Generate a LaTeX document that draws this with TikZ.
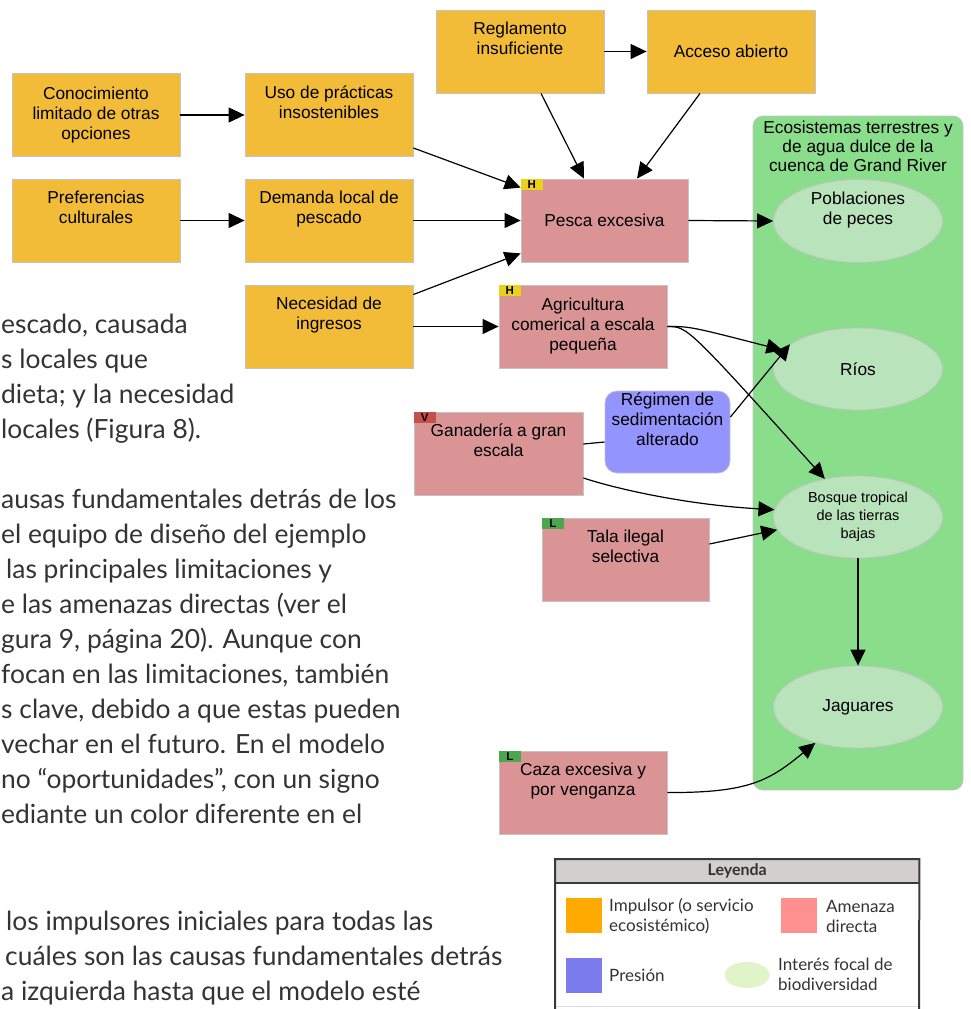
\documentclass[tikz,border=0pt]{standalone}
\usepackage{fontspec}
\setmainfont{Liberation Sans}
\newfontfamily\bodyfont{Lato}
\usetikzlibrary{arrows.meta,shapes.geometric}
\definecolor{drvc}{HTML}{F2BC38}
\definecolor{thrc}{HTML}{DA9495}
\definecolor{prc}{HTML}{9494FF}
\definecolor{contc}{HTML}{8ADD8A}
\definecolor{focc}{HTML}{B9E3BA}
\definecolor{bordc}{HTML}{C4C4C4}
\definecolor{bodyc}{HTML}{333333}
\definecolor{tagH}{HTML}{EBD21A}
\definecolor{tagV}{HTML}{C5504A}
\definecolor{tagL}{HTML}{4CA64C}
\definecolor{lorange}{HTML}{FFAA00}
\definecolor{lpink}{HTML}{FF9090}
\definecolor{lblue}{HTML}{7B7BEE}
\definecolor{lgreen}{HTML}{E1F3C8}
\definecolor{hdrc}{HTML}{D1D0CC}
\definecolor{framec}{HTML}{3A3A3A}
\begin{document}
\begin{tikzpicture}[x=1pt,y=-1pt,
  drv/.style={draw=bordc, fill=drvc, line width=0.8pt, minimum width=168pt, minimum height=83pt, inner sep=0pt, align=center, font=\fontsize{17.3}{20}\selectfont},
  thr/.style={drv, fill=thrc},
  press/.style={drv, fill=prc, rounded corners=12pt, minimum width=125pt, minimum height=82pt},
  foc/.style={ellipse, draw=bordc, fill=focc, line width=0.8pt, minimum width=169pt, minimum height=82pt, inner sep=0pt, align=center, font=\fontsize{17.3}{20}\selectfont},
  tagbox/.style={anchor=north west, minimum width=22pt, minimum height=11pt, inner sep=0pt, font=\fontsize{11.5}{11}\selectfont\bfseries},
  arr/.style={line width=1.2pt, -{Triangle[length=16pt,width=15pt]}},
  bodyline/.style={anchor=base west, inner sep=0pt, text=bodyc, font=\bodyfont\fontsize{26.4}{35}\selectfont},
  legtext/.style={anchor=west, inner sep=0pt, align=left, text=bodyc, font=\bodyfont\fontsize{17}{20}\selectfont},
  legsq/.style={minimum width=36pt, minimum height=35pt, inner sep=0pt}
]
\useasboundingbox (0,0) rectangle (971,1009);

% body text
\node[bodyline] (t1) at (1,333) {escado, causada};
\node[bodyline] (t2) at (1,368) {s locales que};
\node[bodyline] (t3) at (1,403) {dieta; y la necesidad};
\node[bodyline] (t4) at (1,438) {locales (Figura 8).};
\node[bodyline] (t5) at (1,508) {ausas fundamentales detrás de los};
\node[bodyline] (t6) at (1,543) {el equipo de diseño del ejemplo};
\node[bodyline] (t7) at (6,578) {las principales limitaciones y};
\node[bodyline] (t8) at (1,613) {e las amenazas directas (ver el};
\node[bodyline] (t9) at (1,648) {gura 9, página 20). Aunque con};
\node[bodyline] (t10) at (1,683) {focan en las limitaciones, también};
\node[bodyline] (t11) at (1,718) {s clave, debido a que estas pueden};
\node[bodyline] (t12) at (1,753) {vechar en el futuro. En el modelo};
\node[bodyline] (t13) at (1,788) {no “oportunidades”, con un signo};
\node[bodyline] (t14) at (1,823) {ediante un color diferente en el};
\node[bodyline] (t15) at (6,930) {los impulsores iniciales para todas las};
\node[bodyline] (t16) at (5,965) {cuáles son las causas fundamentales detrás};
\node[bodyline] (t17) at (1,1000) {a izquierda hasta que el modelo esté};

% container
\node[draw=bordc, fill=contc, line width=0.8pt, rounded corners=10pt, minimum width=210pt, minimum height=674pt, inner sep=0pt] (cont) at (858,453) {};
\node[align=center, inner sep=0pt, font=\fontsize{17.3}{19}\selectfont] (conttitle) at (858,146) {Ecosistemas terrestres y\\de agua dulce de la\\cuenca de Grand River};

% drivers
\node[drv] (conoc) at (96,115) {Conocimiento\\limitado de otras\\opciones};
\node[drv] (uso) at (329,115) {Uso de prácticas\\insostenibles\\\strut};
\node[drv] (pref) at (96,220.5) {Preferencias\\culturales\\\strut};
\node[drv] (dem) at (329,220.5) {Demanda local de\\pescado\\\strut};
\node[drv] (nec) at (329,326.5) {Necesidad de\\ingresos\\\strut};
\node[drv] (regl) at (520,51.5) {Reglamento\\insuficiente\\\strut};
\node[drv] (acc) at (731,51.5) {Acceso abierto};

% threats
\node[thr, minimum width=167pt] (pesca) at (604.5,220.5) {Pesca excesiva};
\node[thr] (agri) at (583,326.5) {Agricultura\\comerical a escala\\pequeña};
\node[thr, minimum width=169pt] (gan) at (498.5,453.5) {Ganadería a gran\\escala\\\strut};
\node[thr, minimum width=167pt] (tala) at (625.5,559.5) {Tala ilegal\\selectiva\\\strut};
\node[thr] (caza) at (583,792.5) {Caza excesiva y\\por venganza\\\strut};

% pressure
\node[press] (reg) at (667.5,432) {Régimen de\\sedimentación\\alterado\\\strut};

% focal
\node[foc] (pob) at (858,221) {Poblaciones\\de peces\\\strut};
\node[foc] (rios) at (858,369) {Ríos};
\node[foc, font=\fontsize{14.5}{18}\selectfont] (bosq) at (858,517) {Bosque tropical\\de las tierras\\bajas};
\node[foc] (jag) at (858,707) {Jaguares};

% tags
\node[tagbox, fill=tagH] (tgpesca) at (pesca.north west) {H};
\node[tagbox, fill=tagH] (tgagri) at (agri.north west) {H};
\node[tagbox, fill=tagV] (tggan) at (gan.north west) {V};
\node[tagbox, fill=tagL] (tgtala) at (tala.north west) {L};
\node[tagbox, fill=tagL] (tgcaza) at (caza.north west) {L};

% connectors
\draw[arr] (conoc.east) -- (uso.west);
\draw[arr] (pref.east) -- (dem.west);
\draw[arr] ([yshift=-33pt]uso.east) -- ([yshift=-9pt]pesca.north west);
\draw[arr] (dem.east) -- (pesca.west);
\draw[arr] ([yshift=32pt]nec.east) -- ([yshift=9pt]pesca.south west);
\draw[arr] (nec.east) -- (agri.west);
\draw[arr] (regl.east) -- (acc.west);
\draw[arr] ([xshift=21pt]regl.south) -- ([xshift=-20.5pt]pesca.north);
\draw[arr] ([xshift=-31pt]acc.south) -- ([xshift=32.5pt]pesca.north);
\draw[arr] (pesca.east) -- (pob.west);
\draw[arr] (agri.east) .. controls +(23,0) .. (rios.166);
\draw[arr] (agri.east) .. controls +(20,0) .. (bosq.131);
\draw[arr] ([yshift=15pt]reg.east) -- (rios.160);
\draw[line width=1.2pt] ([yshift=9.5pt]gan.east) -- ([yshift=-10pt]reg.west);
\draw[arr] ([yshift=-24.5pt]gan.east) .. controls (620,490) and (690,505) .. (bosq.175);
\draw[arr] ([yshift=15.5pt]tala.east) -- (bosq.189);
\draw[arr] (bosq.south) -- (jag.north);
\draw[arr] (caza.east) .. controls (750,793) and (770,780) .. (jag.220);

% legend
\node[fill=hdrc, minimum width=364pt, minimum height=24pt, inner sep=0pt, anchor=north west, font=\bodyfont\fontsize{16}{18}\selectfont\bfseries, text=bodyc] (leghdr) at (555,859) {Leyenda};
\draw[draw=bordc!60, line width=0.8pt] (leghdr.south west |- 0,1006.5) -- (leghdr.south east |- 0,1006.5);
\draw[framec, line width=2pt] (leghdr.south west) -- (leghdr.south east);
\draw[framec, line width=2pt] (555,1010) -- (leghdr.north west) -- (leghdr.north east) -- (919,1010);
\node[legsq, fill=lorange] (lsq1) at (584,915.5) {};
\node[legtext] (ltx1) at (609,916) {Impulsor (o servicio\\ecosistémico)};
\node[legsq, fill=lpink] (lsq2) at (799,915.5) {};
\node[legtext] (ltx2) at (826,916) {Amenaza\\directa};
\node[legsq, fill=lblue] (lsq3) at (584,975) {};
\node[legtext] (ltx3) at (609,975) {Presión};
\node[ellipse, fill=lgreen, minimum width=45pt, minimum height=26pt, inner sep=0pt] (lel) at (747,975) {};
\node[legtext] (ltx4) at (778,974) {Interés focal de\\biodiversidad};
\end{tikzpicture}
\end{document}
